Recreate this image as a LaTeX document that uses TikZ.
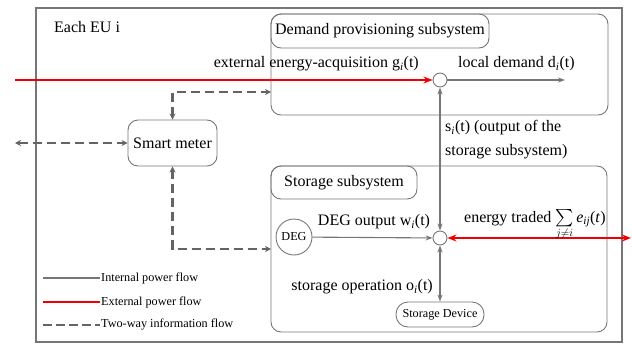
\documentclass[tikz,border=0pt]{standalone}
\usepackage{amsmath}
\usepackage{fontspec}
\setmainfont{Liberation Serif}
\usetikzlibrary{arrows.meta}

\definecolor{linegray}{RGB}{118,118,118}
\definecolor{infogray}{RGB}{100,100,100}
\definecolor{powerred}{RGB}{240,0,0}

\newcommand{\bigsum}{\mathop{\hbox{\fontsize{19}{19}\selectfont$\sum$}}\limits}

\begin{document}
\begin{tikzpicture}[
    x=1pt,
    y=-1pt,
    font=\fontsize{16}{19}\selectfont,
    box/.style={
      draw=linegray,
      line width=0.9pt,
      rounded corners=10pt,
      inner sep=0pt
    },
    junction/.style={
      draw=linegray,
      line width=0.9pt,
      circle,
      fill=white,
      inner sep=0pt,
      minimum size=14pt
    },
    label/.style={inner sep=0pt},
    small/.style={font=\fontsize{12.2}{14}\selectfont},
    internal/.style={
      draw=linegray,
      line width=1.1pt,
      -{Stealth[length=7pt,width=5pt]}
    },
    external/.style={
      draw=powerred,
      line width=1.8pt,
      -{Stealth[length=9pt,width=7pt]}
    },
    info/.style={
      draw=infogray,
      line width=2.5pt,
      dash pattern=on 9pt off 5pt,
      {Stealth[length=6pt,width=6pt]}-{Stealth[length=6pt,width=6pt]}
    }
  ]
    \useasboundingbox (0,0) rectangle (632,343);

    % outer frame
    \node[draw=linegray, line width=1.1pt, minimum width=586pt,
      minimum height=334pt, inner sep=0pt] (eu) at (329,175) {};
    \node[label, anchor=west] (eutitle) at (54,27) {Each EU i};

    % subsystems
    \node[box, minimum width=337pt, minimum height=101pt] (demand) at (439.5,64.5) {};
    \node[box, minimum width=218pt, minimum height=34pt] (demandtitle) at (380,31) {Demand provisioning subsystem};
    \node[box, minimum width=336pt, minimum height=166pt] (storage) at (439,249) {};
    \node[box, minimum width=146pt, minimum height=33pt] (storagetitle) at (344,182.5) {Storage subsystem};
    \node[box, minimum width=89pt, minimum height=46pt] (sm) at (172.5,143) {Smart meter};
    \node[box, small, minimum width=88pt, minimum height=25pt, rounded corners=12pt] (dev) at (440,314.5) {Storage Device};
    \node[draw=linegray, line width=0.9pt, circle, small, inner sep=0pt,
      minimum size=36pt] (deg) at (294,237) {DEG};

    \node[junction] (c1) at (440,80) {};
    \node[junction] (c2) at (440,238) {};

    \coordinate (gin) at (15,80);
    \coordinate (dout) at (565,80);
    \coordinate (eout) at (631,238);
    \coordinate (smout) at (15,143);
    \coordinate (dmin) at (271,92);
    \coordinate (stin) at (271,249);

    % power flows
    \draw[external] (gin) to (c1);
    \draw[internal] (c1) to (dout);
    \draw[internal, {Stealth[length=7pt,width=5pt]}-{Stealth[length=7pt,width=5pt]}] (c1) to (c2);
    \draw[internal] (deg) to (c2);
    \draw[internal, {Stealth[length=7pt,width=5pt]}-{Stealth[length=7pt,width=5pt]}] (c2) to (dev);
    \draw[external, {Stealth[length=9pt,width=7pt]}-{Stealth[length=9pt,width=7pt]}] (c2) to (eout);

    % information flows
    \draw[info] (smout) to (sm);
    \draw[info] (sm.north) |- (dmin);
    \draw[info] (sm.south) |- (stin);

    % labels
    \node[label, anchor=east] (glabel) at (419,64) {external energy-acquisition g\textsubscript{\textit{i}}(t)};
    \node[label, anchor=west] (dlabel) at (458,64) {local demand d\textsubscript{\textit{i}}(t)};
    \node[label, anchor=west, align=left, font=\fontsize{16}{24}\selectfont] (slabel) at (445,140) {s\textsubscript{\textit{i}}(t) (output of the\\storage subsystem)};
    \node[label] (wlabel) at (374,222) {DEG output w\textsubscript{\textit{i}}(t)};
    \node[label, anchor=base west] (elabel) at (464,222) {energy traded $\bigsum_{j\neq i}$\,\textit{e}\textsubscript{\textit{ij}}(\textit{t})};
    \node[label, anchor=east] (olabel) at (433,287) {storage operation o\textsubscript{\textit{i}}(t)};

    % legend
    \coordinate (lgia) at (43,278);
    \coordinate (lgib) at (100,278);
    \coordinate (lgea) at (43,302);
    \coordinate (lgeb) at (100,302);
    \coordinate (lgta) at (43,325);
    \coordinate (lgtb) at (100,325);
    \draw[draw=linegray, line width=1.6pt] (lgia) to (lgib);
    \draw[draw=powerred, line width=1.6pt] (lgea) to (lgeb);
    \draw[draw=infogray, line width=2.5pt, dash pattern=on 9pt off 4pt] (lgta) to (lgtb);
    \node[label, small, anchor=west] (lgitext) at (101,278) {Internal power flow};
    \node[label, small, anchor=west] (lgetext) at (101,302) {External power flow};
    \node[label, small, anchor=west] (lgttext) at (101,325) {Two-way information flow};

  \end{tikzpicture}
\end{document}
